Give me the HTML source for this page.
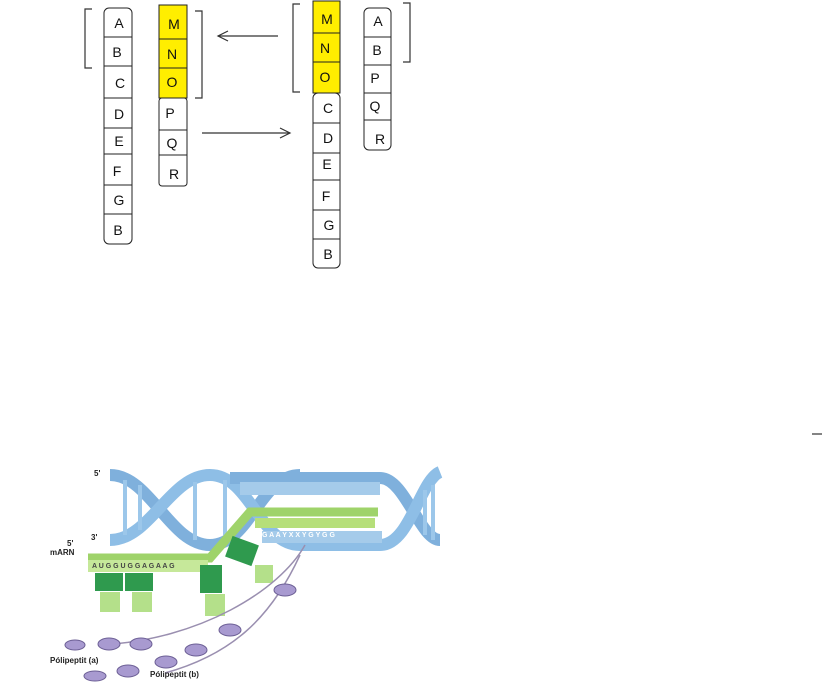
<!DOCTYPE html>
<html><head><style>
html,body{margin:0;padding:0;background:#fff;width:823px;height:684px;overflow:hidden}
svg{position:absolute;left:0;top:0}
text{font-family:"Liberation Sans",sans-serif}
</style></head><body>
<svg width="823" height="684" viewBox="0 0 823 684">
<g stroke="#222" stroke-width="1" fill="#fff">
<!-- left col 1 -->
<rect x="104" y="8" width="28" height="236" rx="5"/>
<line x1="104" y1="37" x2="132" y2="37"/><line x1="104" y1="66" x2="132" y2="66"/>
<line x1="104" y1="98" x2="132" y2="98"/><line x1="104" y1="128" x2="132" y2="128"/>
<line x1="104" y1="154" x2="132" y2="154"/><line x1="104" y1="185" x2="132" y2="185"/>
<line x1="104" y1="214" x2="132" y2="214"/>
<!-- left col 2 -->
<rect x="159" y="5" width="28" height="93" fill="#ffee00" stroke="#222"/>
<rect x="159" y="98" width="28" height="88" rx="3"/>
<line x1="159" y1="39" x2="187" y2="39"/><line x1="159" y1="68" x2="187" y2="68"/>
<line x1="159" y1="130" x2="187" y2="130"/><line x1="159" y1="155" x2="187" y2="155"/>
<!-- right col 1 -->
<rect x="313" y="1" width="27" height="92" fill="#ffee00"/>
<rect x="313" y="93" width="27" height="175" rx="5"/>
<line x1="313" y1="33" x2="340" y2="33"/><line x1="313" y1="62" x2="340" y2="62"/>
<line x1="313" y1="123" x2="340" y2="123"/><line x1="313" y1="153" x2="340" y2="153"/>
<line x1="313" y1="180" x2="340" y2="180"/><line x1="313" y1="210" x2="340" y2="210"/>
<line x1="313" y1="239" x2="340" y2="239"/>
<!-- right col 2 -->
<rect x="364" y="8" width="27" height="142" rx="5"/>
<line x1="364" y1="37" x2="391" y2="37"/><line x1="364" y1="65" x2="391" y2="65"/>
<line x1="364" y1="93" x2="391" y2="93"/><line x1="364" y1="120" x2="391" y2="120"/>
</g>
<g stroke="#333" stroke-width="1.2" fill="none">
<polyline points="92,9 85,9 85,68 92,68"/>
<polyline points="195,11 202,11 202,98 195,98"/>
<polyline points="300,4 293,4 293,92 300,92"/>
<polyline points="403,3 410,3 410,62 403,62"/>
<line x1="278" y1="36" x2="218" y2="36"/><polyline points="228,31 218,36 228,41"/>
<line x1="202" y1="133" x2="290" y2="133"/><polyline points="280,128 290,133 280,138"/>
<line x1="812" y1="434" x2="822" y2="434"/>
</g>
<g font-size="14" fill="#111" text-anchor="middle">
<text x="119" y="28">A</text><text x="117" y="57">B</text><text x="120" y="88">C</text><text x="119" y="119">D</text><text x="119" y="146">E</text><text x="117" y="176">F</text><text x="119" y="205">G</text><text x="118" y="235">B</text>
<text x="174" y="29">M</text><text x="172" y="59">N</text><text x="172" y="87">O</text><text x="170" y="118">P</text><text x="172" y="148">Q</text><text x="174" y="179">R</text>
<text x="327" y="24">M</text><text x="325" y="53">N</text><text x="325" y="82">O</text><text x="328" y="113">C</text><text x="328" y="143">D</text><text x="327" y="169">E</text><text x="326" y="201">F</text><text x="329" y="230">G</text><text x="328" y="259">B</text>
<text x="378" y="26">A</text><text x="377" y="55">B</text><text x="375" y="83">P</text><text x="375" y="111">Q</text><text x="380" y="144">R</text>
</g>
<!-- bottom image -->
<g>
<path d="M110 475 C150 475 170 545 210 545 C250 545 260 475 300 475" stroke="#7fb0dc" stroke-width="12" fill="none"/>
<path d="M110 540 C150 540 170 475 210 475 C250 475 260 545 300 545" stroke="#8ebee6" stroke-width="12" fill="none"/>
<path d="M230 478 L380 478 C405 478 420 540 440 540" stroke="#7fb0dc" stroke-width="12" fill="none"/>
<path d="M300 545 L380 545 C410 545 420 480 440 472" stroke="#8ebee6" stroke-width="12" fill="none"/>
<g stroke="#9cc7ea" stroke-width="4"><line x1="125" y1="480" x2="125" y2="535"/><line x1="140" y1="485" x2="140" y2="530"/><line x1="195" y1="482" x2="195" y2="540"/><line x1="225" y1="480" x2="225" y2="540"/><line x1="425" y1="490" x2="425" y2="535"/><line x1="433" y1="485" x2="433" y2="540"/></g>
<rect x="240" y="482" width="140" height="13" fill="#a5cbea"/>
<rect x="262" y="531" width="120" height="12" fill="#a5cbea"/>
<path d="M88 558 L210 558 L250 512 L378 512" stroke="#9fd36a" stroke-width="9" fill="none"/>
<rect x="255" y="518" width="120" height="10" fill="#b6df7a"/>
<rect x="88" y="560" width="120" height="12" fill="#c6e89a"/>
<rect x="95" y="573" width="28" height="18" fill="#2f9a4e"/><rect x="125" y="573" width="28" height="18" fill="#2f9a4e"/>
<rect x="200" y="565" width="22" height="28" fill="#2f9a4e"/><rect x="228" y="540" width="28" height="22" fill="#2f9a4e" transform="rotate(20 242 551)"/>
<g fill="#b4e08a"><rect x="100" y="592" width="20" height="20"/><rect x="132" y="592" width="20" height="20"/><rect x="205" y="594" width="20" height="22"/><rect x="255" y="565" width="18" height="18"/></g>
<path d="M100 645 C200 640 280 590 305 545" stroke="#9a8fb0" stroke-width="1.5" fill="none"/>
<path d="M165 673 C230 655 270 620 300 555" stroke="#9a8fb0" stroke-width="1.5" fill="none"/>
<g fill="#a89ad0" stroke="#6c5f95"><ellipse cx="75" cy="645" rx="10" ry="5"/><ellipse cx="109" cy="644" rx="11" ry="6"/><ellipse cx="141" cy="644" rx="11" ry="6"/><ellipse cx="230" cy="630" rx="11" ry="6"/><ellipse cx="95" cy="676" rx="11" ry="5"/><ellipse cx="128" cy="671" rx="11" ry="6"/><ellipse cx="166" cy="662" rx="11" ry="6"/><ellipse cx="196" cy="650" rx="11" ry="6"/><ellipse cx="285" cy="590" rx="11" ry="6"/></g>
<g font-family="Liberation Serif,serif" font-weight="bold" font-size="8" fill="#222">
<text x="94" y="476">5'</text><text x="91" y="540">3'</text><text x="67" y="546">5'</text><text x="50" y="555">mARN</text>
<text x="50" y="663">Pólipeptit (a)</text><text x="150" y="677">Pólipeptit (b)</text>
</g>
<text x="262" y="537" font-size="7" fill="#fff" font-weight="bold" font-family="Liberation Serif,serif">G A A Y X X Y G Y G G</text>
<text x="92" y="568" font-size="7" fill="#444" font-weight="bold" font-family="Liberation Serif,serif">A U G G U G G A G A A G</text>
</g>
</svg>
</body></html>
